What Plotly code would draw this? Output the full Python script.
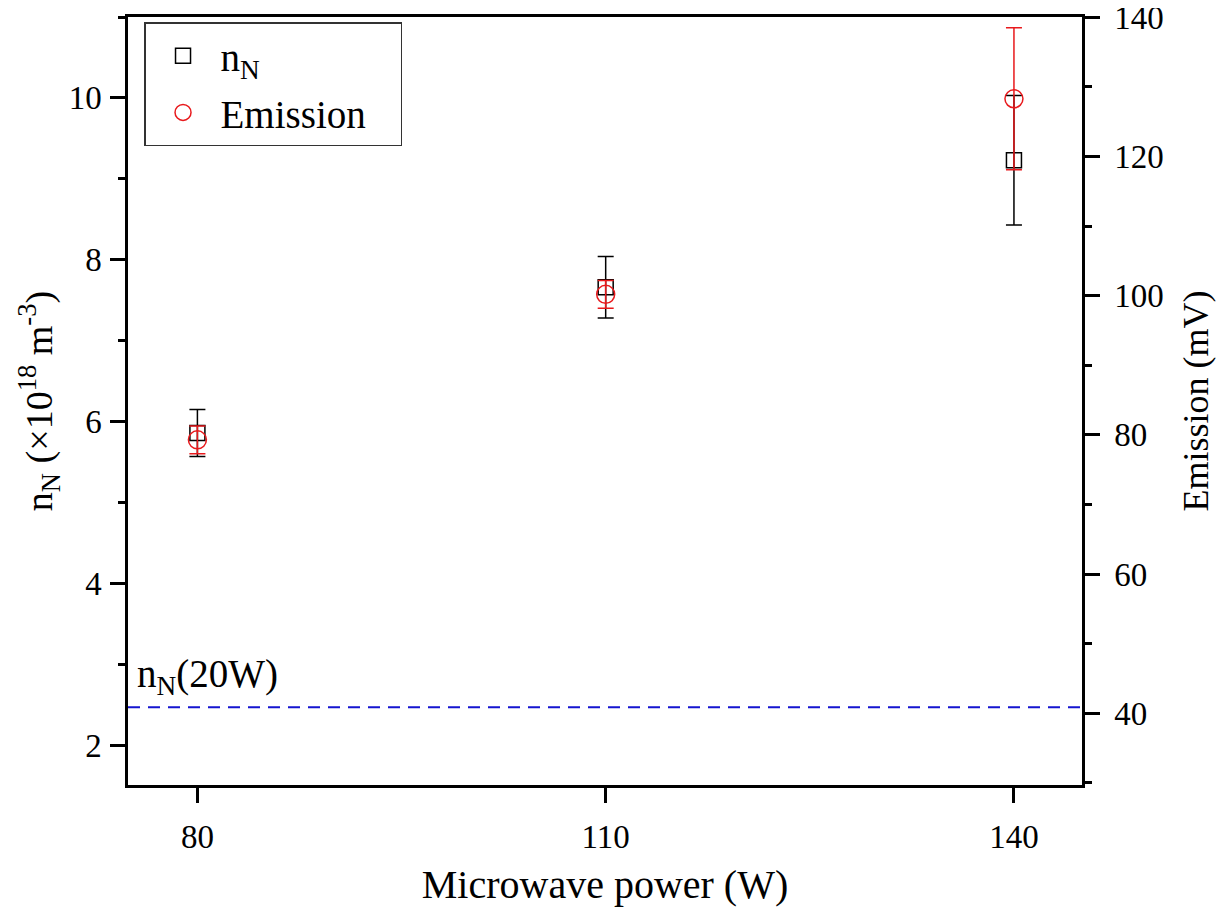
import plotly.graph_objects as go

# ---- data ----
power = [80, 110, 140]
n_N = [5.86, 7.66, 9.23]
n_N_err = [0.29, 0.38, 0.80]
emission = [79.3, 100.2, 128.3]
emission_err = [2.0, 2.0, 10.2]
n_N_20W = 2.47

left_ticks = [2, 4, 6, 8, 10]
left_minor = [3, 5, 7, 9, 11]
right_ticks = [40, 60, 80, 100, 120, 140]
right_minor = [30, 50, 70, 90, 110, 130]

FONT = "Liberation Serif"

fig = go.Figure()

fig.add_trace(go.Scatter(
    x=power, y=n_N, mode="markers", name="n<sub>N</sub>",
    marker=dict(symbol="square-open", size=15, color="black", line=dict(width=1.5)),
    error_y=dict(type="data", array=n_N_err, visible=True, color="black",
                 thickness=1.5, width=8),
    yaxis="y", legendgroup="a",
))
fig.add_trace(go.Scatter(
    x=power, y=emission, mode="markers", name="Emission\u00a0\u00a0\u00a0",
    marker=dict(symbol="circle-open", size=18, color="#e8191c", line=dict(width=1.5)),
    error_y=dict(type="data", array=emission_err, visible=True, color="#e8191c",
                 thickness=1.5, width=8),
    yaxis="y2", legendgroup="b",
))

fig.add_shape(type="line", xref="x domain", x0=0, x1=1, yref="y",
              y0=n_N_20W, y1=n_N_20W,
              line=dict(color="#1515d0", width=2, dash="12px,8px"))
fig.add_annotation(xref="paper", x=0.007, yref="y", y=n_N_20W, yshift=4,
                   text="n<sub>N</sub>(20W)", showarrow=False,
                   xanchor="left", yanchor="bottom",
                   font=dict(family=FONT, size=39, color="black"))

axis_common = dict(
    showline=True, linecolor="black", linewidth=2.5,
    ticks="outside", ticklen=15, tickwidth=2.5, tickcolor="black",
    showgrid=False, zeroline=False, ticklabeloverflow="allow",
    automargin=False,
    tickfont=dict(family=FONT, size=33, color="black"),
)

fig.update_layout(
    width=1217, height=901,
    margin=dict(l=120, r=143, t=9, b=124, autoexpand=False),
    paper_bgcolor="white", plot_bgcolor="white",
    font=dict(family=FONT, color="black"),
    showlegend=True,
    legend=dict(x=0.0168, y=0.993, xanchor="left", yanchor="top",
                bordercolor="#333333", borderwidth=1.5, bgcolor="white",
                font=dict(family=FONT, size=39, color="black"),
                tracegroupgap=3, itemwidth=65),
    xaxis=dict(range=[74.9, 145], tickvals=power, mirror=True,
               ticklabelstandoff=6,
               title=dict(text="Microwave power (W)", standoff=16,
                          font=dict(family=FONT, size=40, color="black")),
               **axis_common),
    yaxis=dict(range=[1.51, 11], tickvals=left_ticks,
               ticklabelstandoff=2,
               minor=dict(tickvals=left_minor, ticks="outside", ticklen=7,
                          tickwidth=2.5, tickcolor="black"),
               title=dict(text="n<sub>N</sub> (×10<sup>18</sup> m<sup>-3</sup>)", standoff=5,
                          font=dict(family=FONT, size=38, color="black")),
               **axis_common),
    yaxis2=dict(range=[29.7, 140.05], overlaying="y", side="right",
                tickvals=right_ticks, ticklabelstandoff=8,
                minor=dict(tickvals=right_minor, ticks="outside", ticklen=7,
                           tickwidth=2.5, tickcolor="black"),
                title=dict(text="Emission (mV)", standoff=20,
                           font=dict(family=FONT, size=36, color="black")),
                **axis_common),
)

fig.write_html("out.html")
